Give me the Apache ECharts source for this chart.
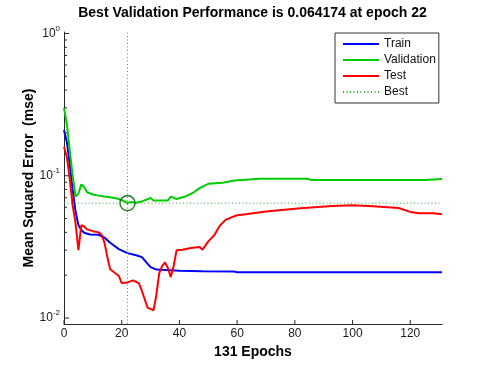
<!DOCTYPE html>
<html>
<head>
<meta charset="utf-8">
<script src="https://cdn.jsdelivr.net/npm/echarts@6/dist/echarts.min.js"></script>
<style>html,body{margin:0;padding:0;background:#fff}#c{width:488px;height:365px}</style>
</head>
<body>
<div id="c"></div>
<script>
// ---- data ----
const trainEpochs = [0,1,2,3,4,5,6,7,9,12,14,16,19,22,25,27,29,30,32,40,48,59,60,131];
const trainMSE    = [0.21,0.172,0.12,0.08,0.056,0.045,0.0415,0.0398,0.0386,0.0385,0.0368,0.0338,0.0305,0.0286,0.0276,0.0268,0.024,0.0228,0.0219,0.0215,0.0213,0.0212,0.021,0.021];

const valEpochs = [0,1,2,3,4,5,6,7,8,10,12,14,17,19,21,22,23,25,27,30,31,33,36,37,39,42,45,47,50,55,59,63,68,84,86,125,131];
const valMSE    = [0.30,0.23,0.15,0.10,0.0714,0.075,0.087,0.083,0.0765,0.0738,0.0725,0.0714,0.070,0.0686,0.066,0.0642,0.0655,0.0647,0.066,0.0697,0.067,0.0669,0.067,0.0714,0.0686,0.0714,0.0765,0.0818,0.0877,0.0894,0.0925,0.0939,0.0952,0.0952,0.0935,0.0935,0.095];

const testEpochs = [0,1,2,3,4,5,6,7,8,10,12,13,14,15,16,18,19,20,22,24,26,27,28,29,30,31,32,33,34,35,36,37,38,39,41,44,47,48,50,52,54,56,58,60,63,70,82,93,100,107,116,120,123,128,131];
const testMSE    = [0.16,0.135,0.095,0.062,0.0465,0.030,0.045,0.044,0.042,0.0408,0.040,0.0385,0.034,0.027,0.022,0.0205,0.0198,0.0176,0.0178,0.0184,0.0175,0.0155,0.0135,0.0118,0.0116,0.0113,0.0145,0.0207,0.0232,0.0246,0.0225,0.0194,0.0232,0.0299,0.0302,0.0311,0.0316,0.0302,0.0346,0.038,0.0445,0.049,0.051,0.0528,0.0537,0.056,0.0591,0.0614,0.0621,0.0611,0.0594,0.0557,0.0545,0.0545,0.0537];

const bestEpoch = 22;
const bestPerf = 0.064174;
const numEpochs = 131;

const xTicks = [0,20,40,60,80,100,120];
const yMajorTicks = [0.01,0.1,1];
const yMinorTicks = [0.02,0.03,0.04,0.05,0.06,0.07,0.08,0.09,0.2,0.3,0.4,0.5,0.6,0.7,0.8,0.9];
const yMin = 0.00908, yMax = 1.024;

const titleText = 'Best Validation Performance is 0.064174 at epoch 22';
const xName = '131 Epochs';
const yName = 'Mean Squared Error  (mse)';

// ---- chart ----
const FONT = '"Liberation Sans", Arial, sans-serif';
const zip = (a, b) => a.map((v, i) => [v, b[i]]);
const chart = echarts.init(document.getElementById('c'), null, {renderer: 'canvas'});

function tickSeries(kind, vals, len) {
  return {
    type: 'custom', silent: true, z: 5, clip: false,
    data: vals.map(v => [v]),
    renderItem: function (params, api) {
      const v = api.value(0);
      let p, shape;
      if (kind === 'y') {
        p = api.coord([0, v]);
        shape = {x1: p[0], y1: p[1], x2: p[0] + len, y2: p[1]};
      } else {
        p = api.coord([v, yMin]);
        shape = {x1: p[0], y1: p[1], x2: p[0], y2: p[1] - len};
      }
      return {type: 'line', shape: shape, style: {stroke: '#2a2a2a', lineWidth: 1}};
    }
  };
}

const lineCommon = {type: 'line', symbol: 'none', showSymbol: false, clip: true, animation: false};
const bestColor = '#2fae2f';

chart.setOption({
  backgroundColor: '#ffffff',
  animation: false,
  textStyle: {fontFamily: FONT},
  title: {
    text: titleText, left: 247.5, top: 1, textAlign: 'center',
    textStyle: {fontFamily: FONT, fontSize: 14, fontWeight: 'bold', color: '#000'}
  },
  legend: {
    data: ['Train', 'Validation', 'Test', 'Best'],
    orient: 'vertical', left: 335, top: 33,
    padding: [4, 3, 4, 7], itemGap: 2, itemWidth: 36, itemHeight: 14, itemTextGap: 1,
    itemStyle: {opacity: 0},
    backgroundColor: '#fff', borderColor: '#333', borderWidth: 1, borderRadius: 0,
    textStyle: {fontFamily: FONT, fontSize: 12, color: '#111', lineHeight: 14},
    selectedMode: false
  },
  grid: {left: 64, right: 46, top: 32, bottom: 41, containLabel: false},
  xAxis: {
    type: 'value', min: 0, max: numEpochs, interval: 20,
    name: xName, nameLocation: 'middle', nameGap: 20,
    nameTextStyle: {fontFamily: FONT, fontSize: 14, fontWeight: 'bold', color: '#000'},
    axisLine: {show: true, lineStyle: {color: '#2a2a2a', width: 1}},
    axisTick: {show: false},
    splitLine: {show: false},
    axisLabel: {
      fontFamily: FONT, fontSize: 12, color: '#1a1a1a', margin: 4,
      formatter: v => (xTicks.indexOf(v) >= 0 ? String(v) : '')
    }
  },
  yAxis: {
    type: 'log', logBase: 10, min: yMin, max: yMax,
    name: yName, nameLocation: 'middle', nameGap: 28, nameRotate: 90, nameMoveOverlap: false,
    nameTextStyle: {fontFamily: FONT, fontSize: 14, fontWeight: 'bold', color: '#000'},
    axisLine: {show: true, lineStyle: {color: '#2a2a2a', width: 1}},
    axisTick: {show: false},
    splitLine: {show: false},
    minorTick: {show: false},
    axisLabel: {
      margin: 4,
      formatter: function (v) {
        const e = Math.log10(v);
        if (Math.abs(e - Math.round(e)) > 1e-6) return '';
        return '{b|10}{s|' + Math.round(e) + '}';
      },
      rich: {
        b: {fontFamily: FONT, fontSize: 12, color: '#1a1a1a', lineHeight: 12, verticalAlign: 'middle'},
        s: {fontFamily: FONT, fontSize: 8, color: '#1a1a1a', lineHeight: 8, padding: [0, 0, 10, 0]}
      }
    }
  },
  series: [
    Object.assign({}, lineCommon, {
      name: 'Train', data: zip(trainEpochs, trainMSE), z: 3,
      itemStyle: {color: '#0000ff'}, lineStyle: {color: '#0000ff', width: 2}
    }),
    Object.assign({}, lineCommon, {
      name: 'Validation', data: zip(valEpochs, valMSE), z: 3,
      itemStyle: {color: '#00cc00'}, lineStyle: {color: '#00cc00', width: 2}
    }),
    Object.assign({}, lineCommon, {
      name: 'Test', data: zip(testEpochs, testMSE), z: 3,
      itemStyle: {color: '#ff0000'}, lineStyle: {color: '#ff0000', width: 2}
    }),
    Object.assign({}, lineCommon, {
      name: 'Best', data: [[0, bestPerf], [numEpochs, bestPerf]], z: 2,
      itemStyle: {color: bestColor}, lineStyle: {color: bestColor, width: 1, type: [1, 2.5]},
      markLine: {
        silent: true, symbol: ['none', 'none'], animation: false,
        label: {show: false},
        lineStyle: {color: bestColor, width: 1, type: [1, 2.5]},
        data: [{xAxis: bestEpoch}]
      }
    }),
    {
      type: 'scatter', data: [[bestEpoch, bestPerf]], symbol: 'circle', symbolSize: 15, z: 4,
      silent: true, animation: false,
      itemStyle: {color: 'rgba(0,0,0,0)', borderColor: '#006a00', borderWidth: 1.6}
    },
    tickSeries('y', yMajorTicks, 5),
    tickSeries('y', yMinorTicks, 3),
    tickSeries('x', xTicks, 4)
  ]
});
</script>
</body>
</html>
